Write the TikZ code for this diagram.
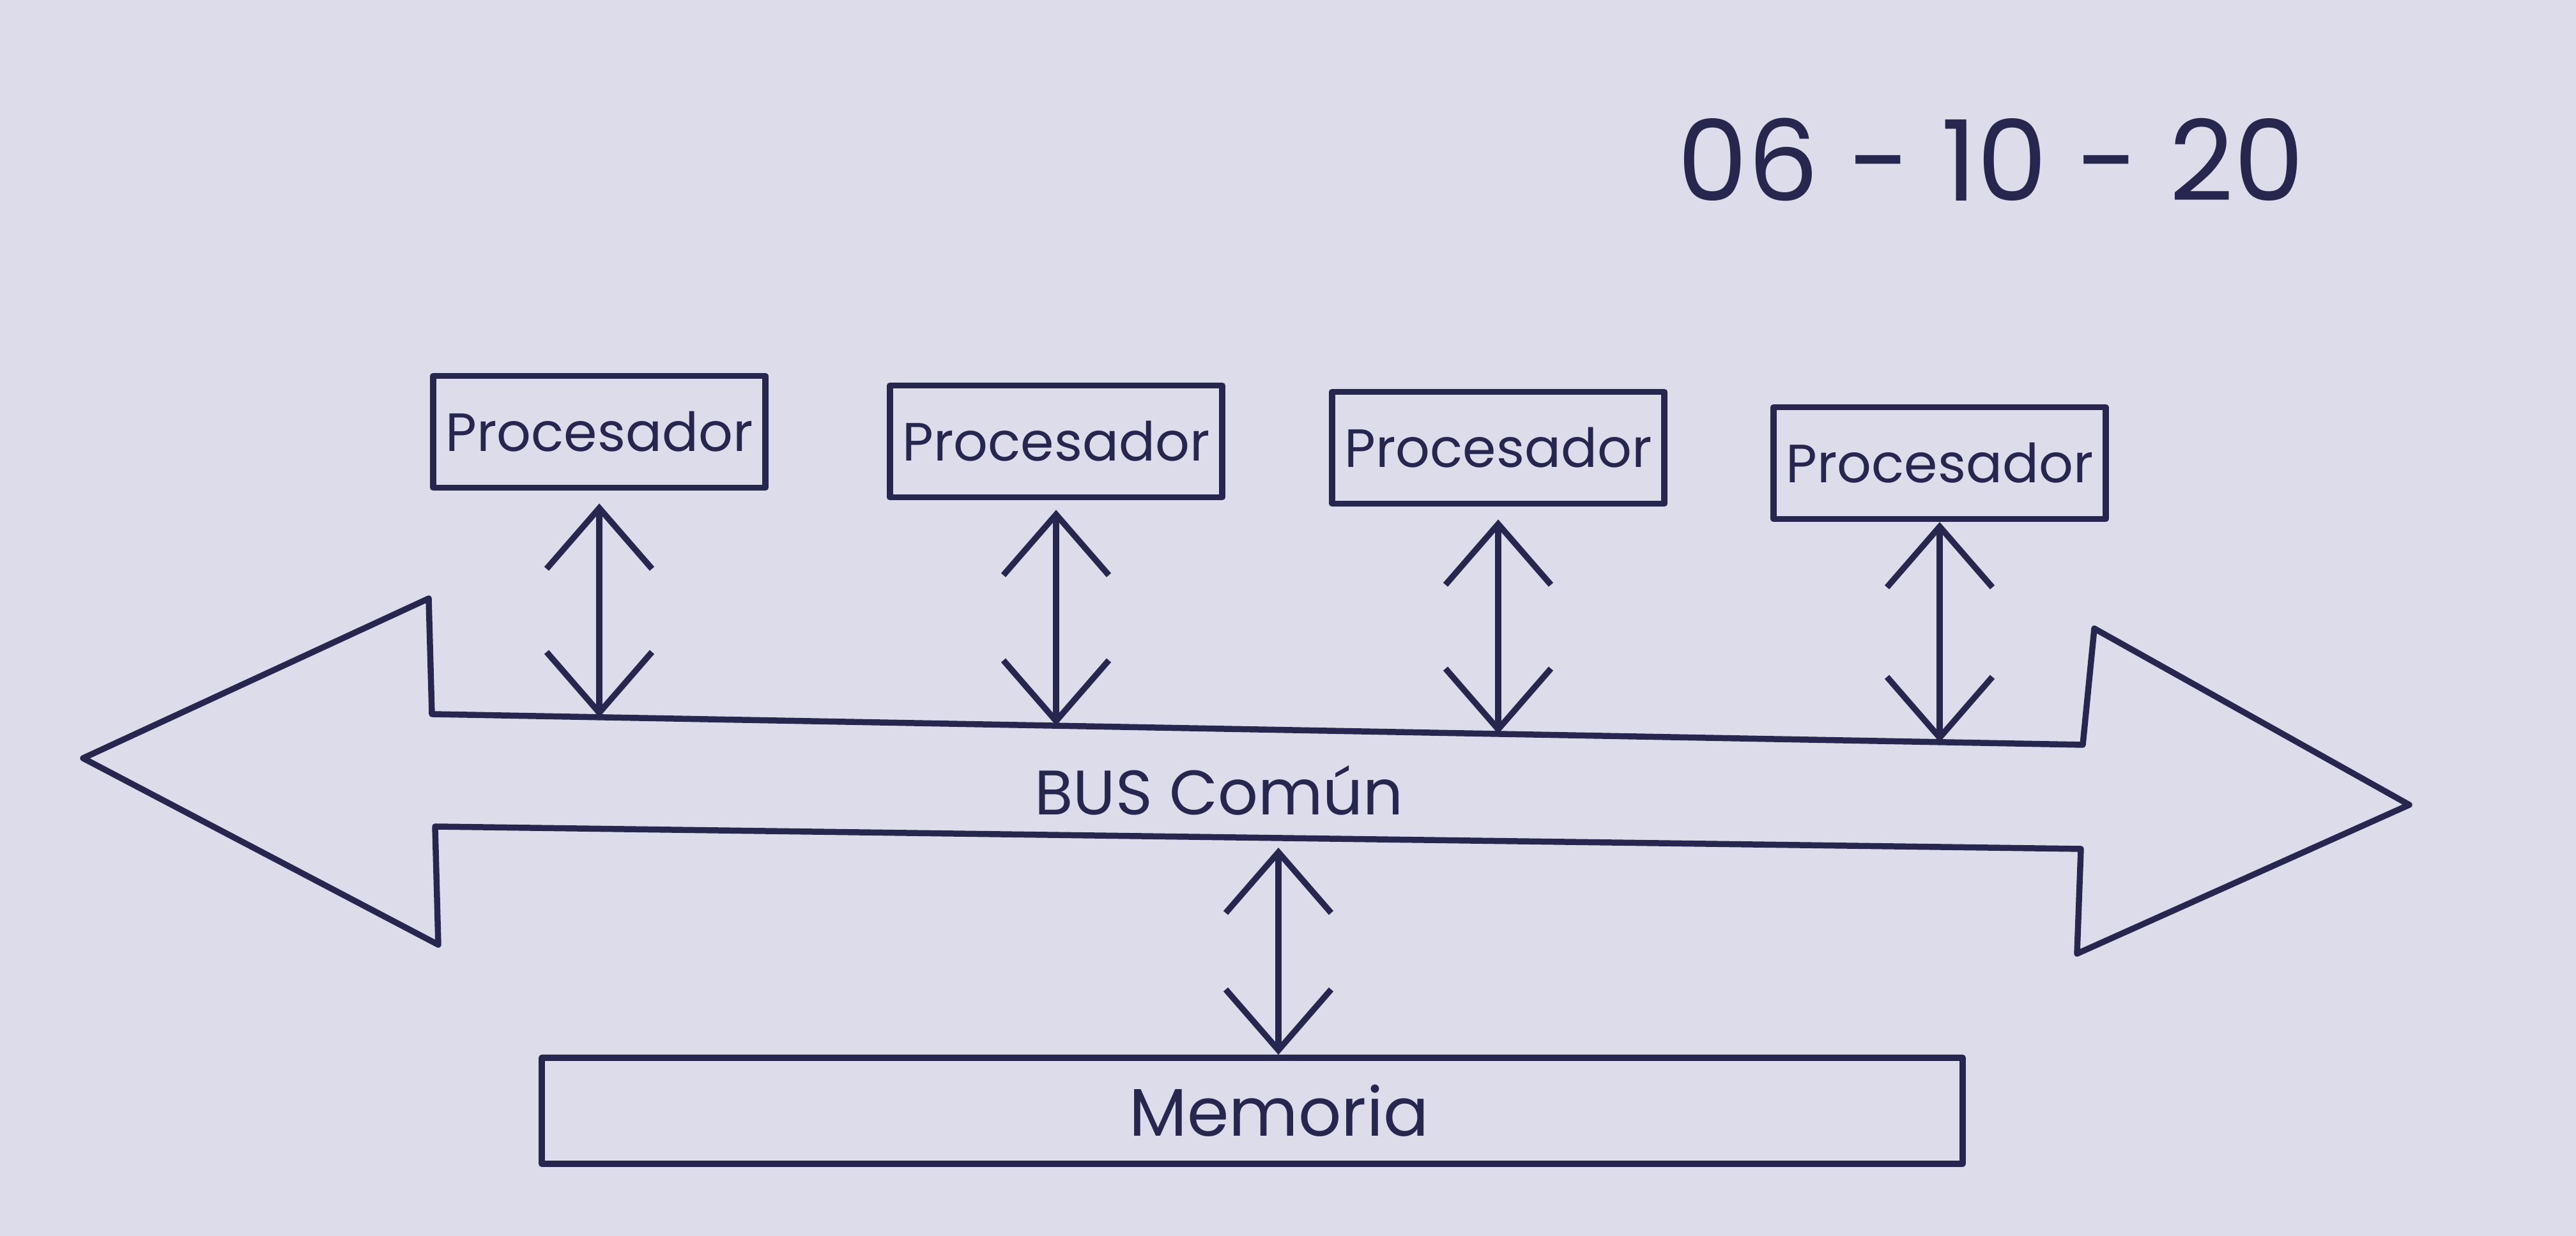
\documentclass[tikz,border=0pt]{standalone}
\usepackage{fontspec}
\setmainfont{Poppins}
\usetikzlibrary{arrows.meta}
\definecolor{ink}{HTML}{26264E}
\definecolor{paper}{HTML}{DCDCEA}

\begin{document}
\begin{tikzpicture}[color=ink, line width=2.7pt, line join=round,
    procbox/.style={draw=ink, minimum width=5.2cm, minimum height=1.75cm,
                    inner sep=0pt, font=\fontsize{24}{28}\selectfont},
    link/.style={ink, {Straight Barb[length=9.5mm,width=16.5mm]}-{Straight Barb[length=9.5mm,width=16.5mm]}}]
  \fill[paper] (0,0) rectangle (40.32,19.35);
  \useasboundingbox (0,0) rectangle (40.32,19.35);

  \node[font=\fontsize{50}{56}\selectfont] (fecha) at (31.16,16.85) {06 - 10 - 20};

  % the four processors, each one sits a little lower than the last
  \node[procbox] (p1) at (9.38,12.59)  {Procesador};
  \node[procbox] (p2) at (16.53,12.44) {Procesador};
  \node[procbox] (p3) at (23.45,12.34) {Procesador};
  \node[procbox] (p4) at (30.36,12.10) {Procesador};

  % the common bus is one wide arrow with a head at both ends
  \draw (1.30,7.48) -- (6.71,9.98) -- (6.76,8.17) -- (32.60,7.69)
        -- (32.78,9.51) -- (37.71,6.75) -- (32.51,4.42) -- (32.57,6.06)
        -- (6.81,6.41) -- (6.86,4.56) -- cycle;
  \node[font=\fontsize{28}{32}\selectfont] (bus) at (19.08,6.98) {BUS Común};

  \coordinate (b1) at (9.38,8.12);
  \coordinate (b2) at (16.53,7.99);
  \coordinate (b3) at (23.45,7.86);
  \coordinate (b4) at (30.36,7.73);
  \foreach \i/\gap in {1/2mm, 2/1.5mm, 3/2mm, 4/0mm}
     { \draw[link] ([yshift=-\gap]p\i.south) -- (b\i); }

  \node[draw=ink, minimum width=22.24cm, minimum height=1.66cm, inner sep=0pt,
        font=\fontsize{30}{34}\selectfont] (mem) at (19.60,1.96)
        {\hspace*{0.84cm}Memoria};
  \coordinate (m0) at (20.01,6.08);
  \draw[link] (m0) -- (m0 |- mem.north);
\end{tikzpicture}
\end{document}
